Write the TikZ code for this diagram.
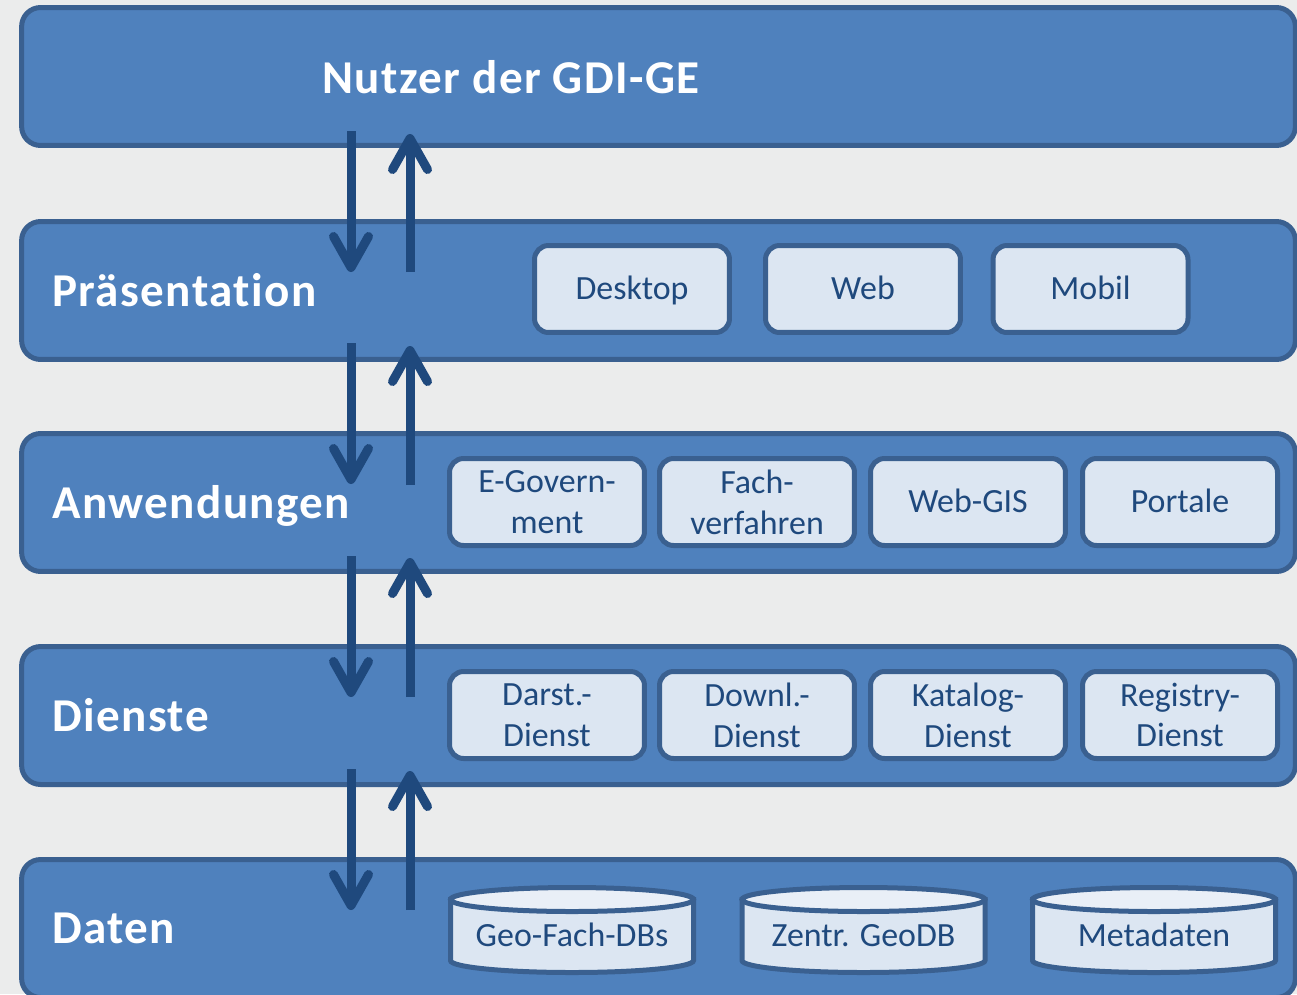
\documentclass[tikz,border=0pt]{standalone}
\usepackage{fontspec}
\setmainfont{Carlito}[Ligatures=NoCommon]
\newfontfamily\titlefont{Carlito}[Ligatures=NoCommon, LetterSpace=3.0]
\usetikzlibrary{arrows.meta}
\definecolor{bgc}{HTML}{EBECEC}
\definecolor{bandfill}{HTML}{4F81BD}
\definecolor{bandline}{HTML}{3A6090}
\definecolor{boxfill}{HTML}{DCE6F2}
\definecolor{cyltop}{HTML}{E9EFF7}
\definecolor{darkblue}{HTML}{1F497D}
\tikzset{
  band/.style={draw=bandline, fill=bandfill, line width=0.1cm, rounded corners=0.38cm,
    minimum width=25.48cm, minimum height=2.76cm, inner sep=0pt},
  bandtitle/.style={anchor=base west, text=white, inner sep=0pt,
    font=\titlefont\fontsize{26.8}{30}\selectfont\bfseries},
  smallbox/.style={draw=bandline, fill=boxfill, line width=0.1cm, rounded corners=0.28cm,
    minimum width=3.9cm, minimum height=1.74cm, inner sep=0pt, align=center,
    text=darkblue, font=\fontsize{19.3}{23.2}\selectfont},
  oneline/.style={text height=15pt, text depth=2.6pt},
  cyltext/.style={inner sep=0pt, text=darkblue, font=\fontsize{19.3}{23.2}\selectfont,
    text height=15pt, text depth=2.6pt},
  cylbody/.style={draw=bandline, fill=boxfill, line width=0.1cm},
  cylcap/.style={draw=bandline, fill=cyltop, line width=0.1cm},
  flow/.style={draw=darkblue, line width=0.18cm,
    -{Straight Barb[length=0.62cm, width=0.7cm, round]}}
}
\begin{document}
\begin{tikzpicture}[x=0.02cm,y=0.02cm]
\useasboundingbox (0,0) rectangle (1297,-994);
\clip (0,0) rectangle (1297,-994);
\fill[bgc] (0,0) rectangle (1297,-994);

% bands
\node[band] (b1) at (658.5,-76.5) {};
\node[band] (b2) at (658.5,-290.5) {};
\node[band] (b3) at (658.5,-502.5) {};
\node[band] (b4) at (658.5,-715.5) {};
\node[band] (b5) at (658.5,-928.5) {};

% titles
\node[bandtitle] (t1) at (322,-93) {Nutzer der GDI-GE};
\node[bandtitle] (t2) at (52,-306) {Präsentation};
\node[bandtitle] (t3) at (52,-518) {Anwendungen};
\node[bandtitle] (t4) at (52,-731) {Dienste};
\node[bandtitle] (t5) at (52,-943) {Daten};

% Präsentation boxes
\node[smallbox, oneline] (desk) at (632,-289) {Desktop};
\node[smallbox, oneline] (web) at (863,-289) {Web};
\node[smallbox, oneline] (mobil) at (1090.5,-289) {Mobil};

% Anwendungen boxes
\node[smallbox] (egov) at (547,-502) {E-Govern-\\ment};
\node[smallbox] (fach) at (757,-502) {Fach-\\verfahren};
\node[smallbox, oneline] (wgis) at (968,-502) {Web-GIS};
\node[smallbox, oneline] (port) at (1180,-502) {Portale};

% Dienste boxes
\node[smallbox] (darst) at (547,-715) {Darst.-\\Dienst};
\node[smallbox] (downl) at (757,-715) {Downl.-\\Dienst};
\node[smallbox] (katal) at (968,-715) {Katalog-\\Dienst};
\node[smallbox] (regis) at (1180,-715) {Registry-\\Dienst};

% cylinders
\foreach \cx/\nm/\tx in {572/cylA/Geo-Fach-DBs, 863.5/cylB/Zentr. GeoDB, 1154/cylC/Metadaten}{
  \draw[cylbody] (\cx-121.5,-899.5) -- (\cx-121.5,-960.5)
     arc[start angle=180, end angle=360, x radius=121.5, y radius=12]
     -- (\cx+121.5,-899.5) -- cycle;
  \draw[cylcap] (\cx,-899.5) ellipse [x radius=121.5, y radius=12];
  \node[cyltext] (\nm) at (\cx,-936) {\tx};
}

% arrows
\coordinate (d1a) at (351,-131); \coordinate (d1b) at (351,-272);
\coordinate (u1a) at (410,-272); \coordinate (u1b) at (410,-134);
\coordinate (d2a) at (351,-343); \coordinate (d2b) at (351,-484);
\coordinate (u2a) at (410,-485); \coordinate (u2b) at (410,-346);
\coordinate (d3a) at (351,-556); \coordinate (d3b) at (351,-697);
\coordinate (u3a) at (410,-697); \coordinate (u3b) at (410,-558);
\coordinate (d4a) at (351,-769); \coordinate (d4b) at (351,-910);
\coordinate (u4a) at (410,-910); \coordinate (u4b) at (410,-771);
\foreach \i in {1,2,3,4}{
  \draw[flow] (d\i a) -- (d\i b);
  \draw[flow] (u\i a) -- (u\i b);
}
\end{tikzpicture}
\end{document}
